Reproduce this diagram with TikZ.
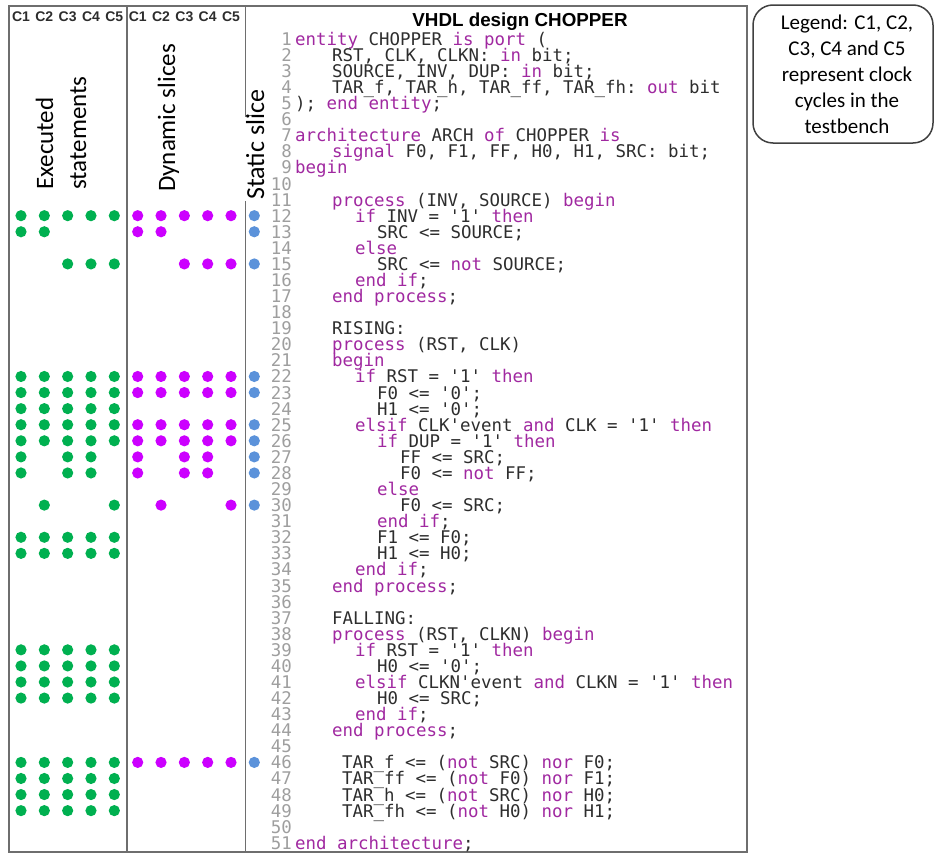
\documentclass[tikz,border=0pt]{standalone}
\usepackage{fontspec}
\setmainfont{Carlito}
\setmonofont{DejaVu Sans Mono}
\newfontfamily\headfont{Liberation Sans}
\definecolor{kwc}{RGB}{160,40,160}
\definecolor{numc}{RGB}{158,158,158}
\definecolor{txtc}{RGB}{45,45,45}
\definecolor{gdot}{RGB}{0,176,80}
\definecolor{mdot}{RGB}{204,0,255}
\definecolor{bdot}{RGB}{91,146,218}
\definecolor{framec}{RGB}{110,110,110}
\definecolor{legc}{RGB}{64,64,64}
\newcommand\kw[1]{\textcolor{kwc}{#1}}
\newcommand\codeln[3]{%
  \node[lnum] (n#1) at (292,{-(45.3+(#1-1)*16.08)}) {#1};
  \node[ctext] (c#1) at (#2,{-(45.3+(#1-1)*16.08)}) {#3};}
\tikzset{
  lnum/.style={anchor=base east, inner sep=0pt, text=numc, font=\ttfamily\fontsize{17.44}{16}\selectfont},
  ctext/.style={anchor=base west, inner sep=0pt, text=txtc, font=\ttfamily\fontsize{17.44}{16}\selectfont\frenchspacing},
  frame/.style={draw=framec, line width=1.8pt},
  vlab/.style={rotate=90, anchor=base west, inner sep=0pt, text=black, font=\fontsize{25}{30}\selectfont},
  chead/.style={anchor=base, inner sep=0pt, text=txtc, font=\headfont\bfseries\fontsize{14}{16}\selectfont},
  ttl/.style={anchor=base, inner sep=0pt, text=black, font=\headfont\bfseries\fontsize{18.8}{22}\selectfont},
  legbox/.style={draw=legc, line width=1.5pt, rounded corners=20pt},
  legtext/.style={align=center, inner sep=0pt, text=black, font=\fontsize{21}{26}\selectfont},
  gd/.style={fill=gdot},
  md/.style={fill=mdot},
  bd/.style={fill=bdot}
}
\begin{document}
\begin{tikzpicture}[x=1pt,y=1pt]
\useasboundingbox (0,0) rectangle (935,-854);
% frame
\draw[frame] (9,-6) rectangle (747,-852);
\draw[frame] (127,-6) -- (127,-852);
\draw[frame] (245.5,-6) -- (245.5,-852);
\fill[white] (240,-116.5) rectangle (253,-201);
\draw[draw=framec, line width=1.2pt] (245.5,-115.5) -- (253,-115.5);
% headers
\foreach \i in {1,...,5} {
  \node[chead] (gh\i) at ({21+(\i-1)*23.33},-21.7) {C\i};
  \node[chead] (mh\i) at ({137.7+(\i-1)*23.33},-21.7) {C\i};
}
\node[ttl] (title) at (520,-26) {VHDL design CHOPPER};
% vertical labels
\node[vlab] (exA) at (53,-190) {Executed};
\node[vlab] (exB) at (86,-190) {statements};
\node[vlab] (dyn) at (175,-192) {Dynamic slices};
\node[vlab, font=\fontsize{26}{30}\selectfont] (sta) at (264,-200) {Static slice};
% legend
\draw[legbox] (753,-5) rectangle (933,-143);
\node[legtext] (legend) at (847,-74) {Legend: C1, C2,\\C3, C4 and C5\\represent clock\\cycles in the\\testbench};
% code
\codeln{1}{295}{\kw{entity} CHOPPER \kw{is} \kw{port} (}
\codeln{2}{332}{RST, CLK, CLKN: \kw{in} bit;}
\codeln{3}{332}{SOURCE, INV, DUP: \kw{in} bit;}
\codeln{4}{332}{TAR\_f, TAR\_h, TAR\_ff, TAR\_fh: \kw{out} bit}
\codeln{5}{295}{); \kw{end} \kw{entity};}
\codeln{6}{295}{}
\codeln{7}{295}{\kw{architecture} ARCH \kw{of} CHOPPER \kw{is}}
\codeln{8}{332}{\kw{signal} F0, F1, FF, H0, H1, SRC: bit;}
\codeln{9}{295}{\kw{begin}}
\codeln{10}{295}{}
\codeln{11}{332}{\kw{process} (INV, SOURCE) \kw{begin}}
\codeln{12}{355}{\kw{if} INV = '1' \kw{then}}
\codeln{13}{377}{SRC <= SOURCE;}
\codeln{14}{355}{\kw{else}}
\codeln{15}{377}{SRC <= \kw{not} SOURCE;}
\codeln{16}{355}{\kw{end} \kw{if};}
\codeln{17}{332}{\kw{end} \kw{process};}
\codeln{18}{332}{}
\codeln{19}{332}{RISING:}
\codeln{20}{332}{\kw{process} (RST, CLK)}
\codeln{21}{332}{\kw{begin}}
\codeln{22}{355}{\kw{if} RST = '1' \kw{then}}
\codeln{23}{377}{F0 <= '0';}
\codeln{24}{377}{H1 <= '0';}
\codeln{25}{355}{\kw{elsif} CLK'event \kw{and} CLK = '1' \kw{then}}
\codeln{26}{377}{\kw{if} DUP = '1' \kw{then}}
\codeln{27}{400}{FF <= SRC;}
\codeln{28}{400}{F0 <= \kw{not} FF;}
\codeln{29}{377}{\kw{else}}
\codeln{30}{400}{F0 <= SRC;}
\codeln{31}{377}{\kw{end} \kw{if};}
\codeln{32}{377}{F1 <= F0;}
\codeln{33}{377}{H1 <= H0;}
\codeln{34}{355}{\kw{end} \kw{if};}
\codeln{35}{332}{\kw{end} \kw{process};}
\codeln{36}{332}{}
\codeln{37}{332}{FALLING:}
\codeln{38}{332}{\kw{process} (RST, CLKN) \kw{begin}}
\codeln{39}{355}{\kw{if} RST = '1' \kw{then}}
\codeln{40}{377}{H0 <= '0';}
\codeln{41}{355}{\kw{elsif} CLKN'event \kw{and} CLKN = '1' \kw{then}}
\codeln{42}{377}{H0 <= SRC;}
\codeln{43}{355}{\kw{end} \kw{if};}
\codeln{44}{332}{\kw{end} \kw{process};}
\codeln{45}{332}{}
\codeln{46}{342}{TAR\_f <= (\kw{not} SRC) \kw{nor} F0;}
\codeln{47}{342}{TAR\_ff <= (\kw{not} F0) \kw{nor} F1;}
\codeln{48}{342}{TAR\_h <= (\kw{not} SRC) \kw{nor} H0;}
\codeln{49}{342}{TAR\_fh <= (\kw{not} H0) \kw{nor} H1;}
\codeln{50}{332}{}
\codeln{51}{295}{\kw{end} \kw{architecture};}
% dots: executed statements
\foreach \ln/\cols in {12/{1,2,3,4,5},13/{1,2},15/{3,4,5},22/{1,2,3,4,5},23/{1,2,3,4,5},24/{1,2,3,4,5},25/{1,2,3,4,5},26/{1,2,3,4,5},27/{1,3,4},28/{1,3,4},30/{2,5},32/{1,2,3,4,5},33/{1,2,3,4,5},39/{1,2,3,4,5},40/{1,2,3,4,5},41/{1,2,3,4,5},42/{1,2,3,4,5},46/{1,2,3,4,5},47/{1,2,3,4,5},48/{1,2,3,4,5},49/{1,2,3,4,5}} {
  \foreach \c in \cols {
    \fill[gd] ({21+(\c-1)*23.33},{-(38.8+(\ln-1)*16.08)}) circle[radius=5.6pt];
  }
}
% dots: dynamic slices
\foreach \ln/\cols in {12/{1,2,3,4,5},13/{1,2},15/{3,4,5},22/{1,2,3,4,5},23/{1,2,3,4,5},25/{1,2,3,4,5},26/{1,2,3,4,5},27/{1,3,4},28/{1,3,4},30/{2,5},46/{1,2,3,4,5}} {
  \foreach \c in \cols {
    \fill[md] ({137.7+(\c-1)*23.33},{-(38.8+(\ln-1)*16.08)}) circle[radius=5.6pt];
  }
}
% dots: static slice
\foreach \ln in {12,13,15,22,23,25,26,27,28,30,46} {
  \fill[bd] (254.3,{-(38.8+(\ln-1)*16.08)}) circle[radius=5.6pt];
}
\end{tikzpicture}
\end{document}
